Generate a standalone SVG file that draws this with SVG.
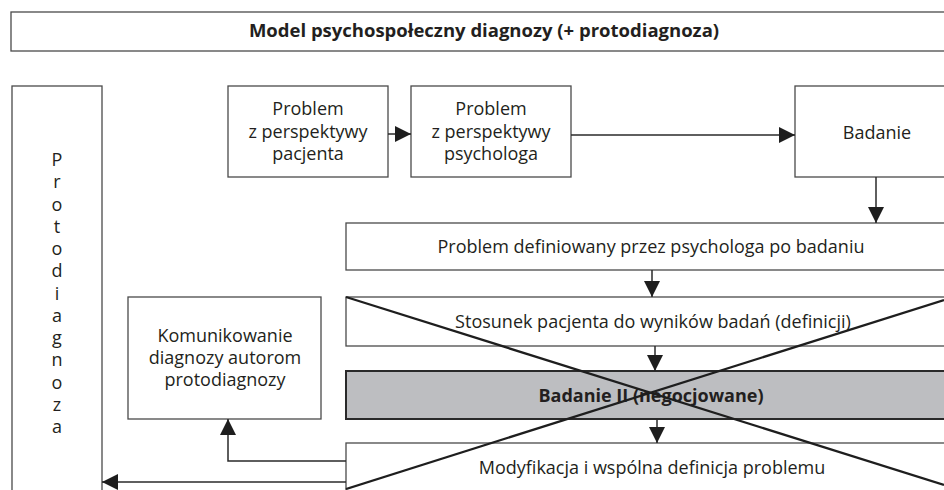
<svg xmlns="http://www.w3.org/2000/svg" width="944" height="490" viewBox="0 0 944 490">
<defs>
<style>
.box{fill:#fff;stroke:#4a4a4a;stroke-width:1.3}
.gray{fill:#bdbec1;stroke:#2a2a2a;stroke-width:2}
.t{font-family:"Open Sans","Liberation Sans",sans-serif;font-size:18px;fill:#231f20;text-anchor:middle}
.tb{font-family:"Open Sans","Liberation Sans",sans-serif;font-size:18px;font-weight:700;fill:#231f20;text-anchor:middle}
.c{fill:none;stroke:#2a2a2a;stroke-width:1.5}
.x{fill:none;stroke:#1e1e1e;stroke-width:2.3}
</style>
<marker id="ah" viewBox="0 0 16 16" refX="16" refY="8" markerWidth="16" markerHeight="16" markerUnits="userSpaceOnUse" orient="auto">
<path d="M0,0 L16,8 L0,16 z" fill="#1e1e1e"/>
</marker>
</defs>
<rect width="944" height="490" fill="#fff"/>

<g id="title">
<rect class="box" x="11" y="12" width="940" height="39"/>
<text class="tb" x="484" y="37" style="font-size:18.5px">Model psychospołeczny diagnozy (+ protodiagnoza)</text>
</g>

<g id="protodiagnoza">
<rect class="box" x="12" y="86" width="90" height="410"/>
<text class="t" x="57" y="166">P</text>
<text class="t" x="57" y="188">r</text>
<text class="t" x="57" y="210.5">o</text>
<text class="t" x="57" y="233">t</text>
<text class="t" x="57" y="255">o</text>
<text class="t" x="57" y="277">d</text>
<text class="t" x="57" y="299.5">i</text>
<text class="t" x="57" y="322">a</text>
<text class="t" x="57" y="344">g</text>
<text class="t" x="57" y="366">n</text>
<text class="t" x="57" y="388.5">o</text>
<text class="t" x="57" y="411">z</text>
<text class="t" x="57" y="433">a</text>
</g>

<g id="problem-pacjenta">
<rect class="box" x="228" y="86" width="160" height="91"/>
<text class="t" x="308" y="115">Problem</text>
<text class="t" x="308" y="138">z perspektywy</text>
<text class="t" x="308" y="160">pacjenta</text>
</g>

<g id="problem-psychologa">
<rect class="box" x="411" y="86" width="160" height="91"/>
<text class="t" x="491" y="115">Problem</text>
<text class="t" x="491" y="138">z perspektywy</text>
<text class="t" x="491" y="160">psychologa</text>
</g>

<g id="badanie">
<rect class="box" x="795" y="86" width="160" height="91"/>
<text class="t" x="877" y="139">Badanie</text>
</g>

<g id="problem-definiowany">
<rect class="box" x="346" y="223" width="610" height="47"/>
<text class="t" x="651" y="253">Problem definiowany przez psychologa po badaniu</text>
</g>

<g id="komunikowanie">
<rect class="box" x="128" y="297" width="193" height="122"/>
<text class="t" x="225" y="342">Komunikowanie</text>
<text class="t" x="225" y="364">diagnozy autorom</text>
<text class="t" x="225" y="386">protodiagnozy</text>
</g>

<g id="stosunek">
<rect class="box" x="346" y="297" width="610" height="49"/>
<text class="t" x="653" y="328">Stosunek pacjenta do wyników badań (definicji)</text>
</g>

<g id="badanie-ii">
<rect class="gray" x="346" y="371" width="610" height="48"/>
<text class="tb" x="651" y="402">Badanie II (negocjowane)</text>
</g>

<g id="modyfikacja">
<rect class="box" x="346" y="443" width="610" height="60"/>
<text class="t" x="652" y="474">Modyfikacja i wspólna definicja problemu</text>
</g>

<g id="connectors">
<line class="c" x1="388" y1="134" x2="411" y2="134" marker-end="url(#ah)"/>
<line class="c" x1="571" y1="135" x2="795" y2="135" marker-end="url(#ah)"/>
<line class="c" x1="876" y1="177" x2="876" y2="223" marker-end="url(#ah)"/>
<line class="c" x1="652" y1="270" x2="652" y2="297" marker-end="url(#ah)"/>
<line class="c" x1="655" y1="346" x2="655" y2="371" marker-end="url(#ah)"/>
<line class="c" x1="657" y1="419" x2="657" y2="443" marker-end="url(#ah)"/>
<polyline class="c" points="346,461 228,461 228,419" marker-end="url(#ah)"/>
<line class="c" x1="346" y1="482" x2="102" y2="482" marker-end="url(#ah)"/>
<line class="x" x1="346" y1="297" x2="944" y2="485"/>
<line class="x" x1="346" y1="489" x2="944" y2="300"/>
</g>
</svg>
